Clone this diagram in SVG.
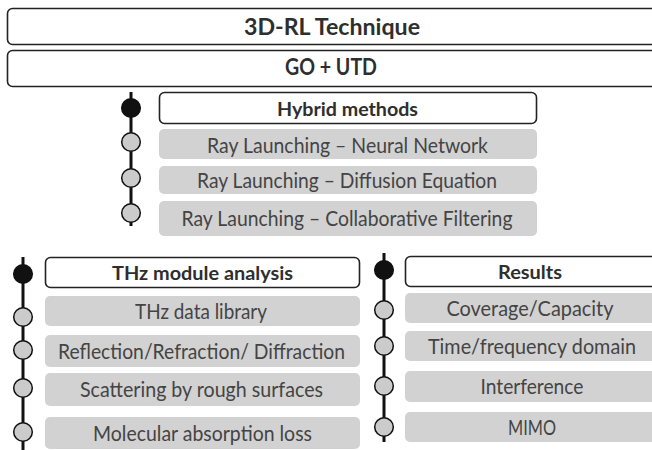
<svg xmlns="http://www.w3.org/2000/svg" width="652" height="450" viewBox="0 0 652 450">
<style>
.hdr{fill:#fff;stroke:#222;stroke-width:1.6}
.itm{fill:#d2d2d2;stroke:none}
.tb{font-family:Lato,"Liberation Sans",sans-serif;font-weight:bold;fill:#2e2e2e;text-anchor:middle}
.tr{font-family:Lato,"Liberation Sans",sans-serif;fill:#444;text-anchor:middle;font-size:20.5px}
.ln{stroke:#111;stroke-width:3;fill:none}
.dk{fill:#111;stroke:#111;stroke-width:1.5}
.lt{fill:#cbcbcb;stroke:#111;stroke-width:1.5}
</style>
<rect width="652" height="450" fill="#fff"/>
<g id="node-3drl">
<rect class="hdr" x="7.5" y="8.5" width="650" height="36" rx="5"/>
<text class="tb" x="332" y="35.3" font-size="22" textLength="176" lengthAdjust="spacingAndGlyphs">3D-RL Technique</text>
</g>
<g id="node-goutd">
<rect class="hdr" x="7.5" y="50.5" width="650" height="36" rx="5"/>
<text class="tb" x="331" y="75" font-size="22" textLength="92" lengthAdjust="spacingAndGlyphs">GO + UTD</text>
</g>
<g id="connectors">
<line class="ln" x1="131" y1="92" x2="131" y2="226"/>
<line class="ln" x1="23" y1="257" x2="23" y2="450"/>
<line class="ln" x1="384" y1="253" x2="384" y2="442"/>
<circle class="dk" cx="131" cy="108" r="9.3"/>
<circle class="lt" cx="131" cy="142" r="9.3"/>
<circle class="lt" cx="131" cy="178" r="9.3"/>
<circle class="lt" cx="131" cy="213" r="9.3"/>
<circle class="dk" cx="23" cy="274" r="9.3"/>
<circle class="lt" cx="23" cy="317" r="9.3"/>
<circle class="lt" cx="23" cy="350" r="9.3"/>
<circle class="lt" cx="23" cy="388" r="9.3"/>
<circle class="lt" cx="23" cy="432" r="9.3"/>
<circle class="dk" cx="384" cy="270" r="9.3"/>
<circle class="lt" cx="384" cy="310" r="9.3"/>
<circle class="lt" cx="384" cy="346" r="9.3"/>
<circle class="lt" cx="384" cy="386" r="9.3"/>
<circle class="lt" cx="384" cy="427" r="9.3"/>
</g>
<g id="node-hybrid">
<rect class="hdr" x="159.5" y="92.5" width="377" height="31" rx="5"/>
<text class="tb" x="347.5" y="115.5" font-size="19" textLength="141" lengthAdjust="spacingAndGlyphs">Hybrid methods</text>
</g>
<g id="node-rl-nn">
<rect class="itm" x="159" y="129" width="378" height="30" rx="5"/>
<text class="tr" x="347.5" y="152.5" textLength="281" lengthAdjust="spacingAndGlyphs">Ray Launching – Neural Network</text>
</g>
<g id="node-rl-de">
<rect class="itm" x="159" y="166" width="378" height="28" rx="5"/>
<text class="tr" x="347" y="187.5" textLength="300" lengthAdjust="spacingAndGlyphs">Ray Launching – Diffusion Equation</text>
</g>
<g id="node-rl-cf">
<rect class="itm" x="159" y="201" width="378" height="35" rx="5"/>
<text class="tr" x="347" y="226" textLength="331" lengthAdjust="spacingAndGlyphs">Ray Launching – Collaborative Filtering</text>
</g>
<g id="node-thz">
<rect class="hdr" x="45.5" y="257.5" width="314" height="30" rx="5"/>
<text class="tb" x="202.5" y="279.5" font-size="19" textLength="181" lengthAdjust="spacingAndGlyphs">THz module analysis</text>
</g>
<g id="node-thz-lib">
<rect class="itm" x="45" y="296" width="315" height="30" rx="5"/>
<text class="tr" x="201" y="318.5" textLength="132" lengthAdjust="spacingAndGlyphs">THz data library</text>
</g>
<g id="node-refl">
<rect class="itm" x="45" y="335" width="315" height="32" rx="5"/>
<text class="tr" x="201.5" y="358.5" textLength="287" lengthAdjust="spacingAndGlyphs">Reflection/Refraction/ Diffraction</text>
</g>
<g id="node-scat">
<rect class="itm" x="45" y="373" width="315" height="33" rx="5"/>
<text class="tr" x="201.5" y="397" textLength="243" lengthAdjust="spacingAndGlyphs">Scattering by rough surfaces</text>
</g>
<g id="node-mol">
<rect class="itm" x="45" y="417" width="315" height="32" rx="5"/>
<text class="tr" x="202.5" y="440.5" textLength="219" lengthAdjust="spacingAndGlyphs">Molecular absorption loss</text>
</g>
<g id="node-results">
<rect class="hdr" x="405.5" y="256.5" width="252" height="30" rx="5"/>
<text class="tb" x="530" y="278.5" font-size="19" textLength="64" lengthAdjust="spacingAndGlyphs">Results</text>
</g>
<g id="node-cov">
<rect class="itm" x="405" y="293" width="252" height="30" rx="5"/>
<text class="tr" x="530" y="315.5" textLength="167" lengthAdjust="spacingAndGlyphs">Coverage/Capacity</text>
</g>
<g id="node-time">
<rect class="itm" x="405" y="331" width="252" height="30" rx="5"/>
<text class="tr" x="532" y="353.5" textLength="208" lengthAdjust="spacingAndGlyphs">Time/frequency domain</text>
</g>
<g id="node-intf">
<rect class="itm" x="405" y="371" width="252" height="31" rx="5"/>
<text class="tr" x="532" y="394" textLength="103" lengthAdjust="spacingAndGlyphs">Interference</text>
</g>
<g id="node-mimo">
<rect class="itm" x="405" y="412" width="252" height="30" rx="5"/>
<text class="tr" x="532" y="434.5" textLength="48" lengthAdjust="spacingAndGlyphs">MIMO</text>
</g>
</svg>
